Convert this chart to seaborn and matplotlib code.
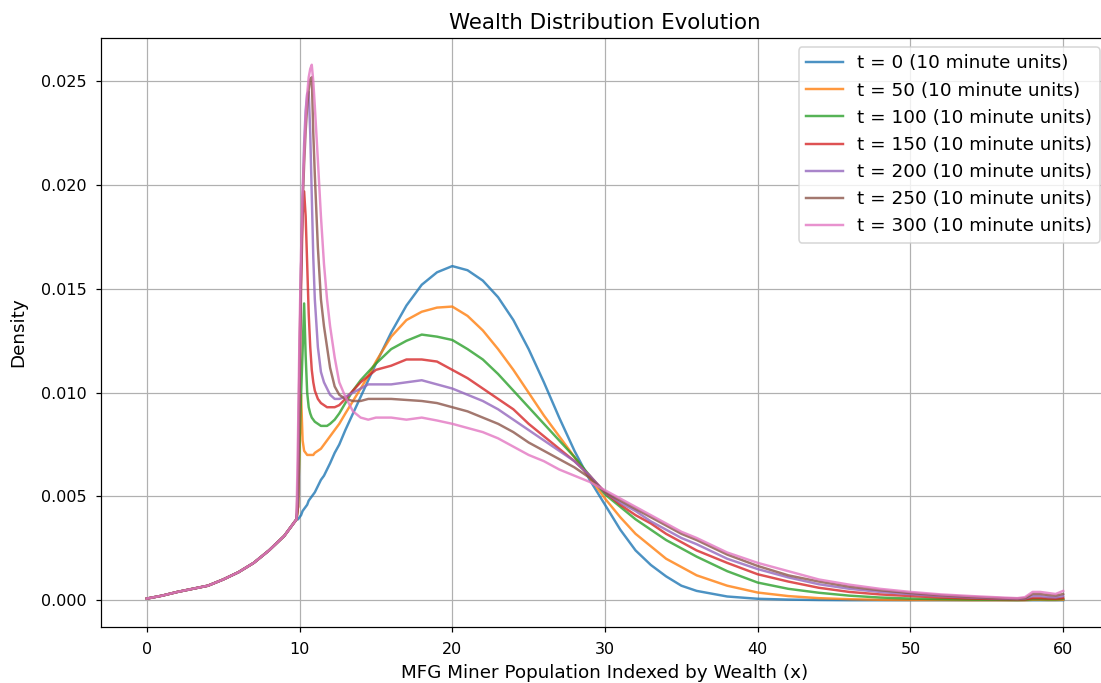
import numpy as np
import pandas as pd
import seaborn as sns
import matplotlib
matplotlib.use('Agg')
import matplotlib.pyplot as plt

# shared left tail (all curves start the same below x ~ 9.8)
x_tail = [0, 1, 2, 3, 4, 5, 6, 7, 8, 9, 9.5]
y_tail = [0.00008, 0.00022, 0.0004, 0.00055, 0.0007, 0.001, 0.00135, 0.0018, 0.0024, 0.0031, 0.0036]

# grid after the tail
x_spike = [9.8, 9.9, 10.0, 10.1, 10.2, 10.3, 10.4, 10.5, 10.6, 10.7, 10.8, 10.9, 11.0,
           11.2, 11.4, 11.6, 11.8, 12.0, 12.3, 12.6, 13.0, 13.5, 14.0, 14.5, 15.0]
x_mid = [16, 17, 18, 19, 20, 21, 22, 23, 24, 25, 26, 27, 28, 29, 30]
x_right = [31, 32, 33, 34, 35, 36, 38, 40, 42, 44, 46, 48, 50, 52, 54, 56,
           57, 57.5, 58, 58.5, 59, 59.5, 60]

times = [0, 50, 100, 150, 200, 250, 300]

t0 = ([0.0039, 0.0039, 0.0040, 0.0041, 0.0043, 0.0044, 0.0045, 0.0046, 0.0048, 0.0049, 0.0050, 0.0051, 0.0052,
       0.0055, 0.0058, 0.0060, 0.0063, 0.0066, 0.0071, 0.0075, 0.0082, 0.0090, 0.0098, 0.0106, 0.0114]
      + [0.0129, 0.0142, 0.0152, 0.0158, 0.0161, 0.0159, 0.0154, 0.0146, 0.0135, 0.0121, 0.0105, 0.0088, 0.0072, 0.0058, 0.0046]
      + [0.0034, 0.0024, 0.0017, 0.00115, 0.0007, 0.00045, 0.00018, 0.00007, 0.00003, 0.00001, 0.0, 0.0, 0.0, 0.0, 0.0, 0.0,
         0.0, 0.0, 0.0, 0.0, 0.0, 0.0, 0.0])

t50 = ([0.0039, 0.0045, 0.0075, 0.0099, 0.0077, 0.0072, 0.0071, 0.0070, 0.0070, 0.0070, 0.0070, 0.0070, 0.0071,
        0.0072, 0.0073, 0.0075, 0.0077, 0.0079, 0.0082, 0.0085, 0.0090, 0.0096, 0.0102, 0.0108, 0.0115]
       + [0.0127, 0.0135, 0.0139, 0.0141, 0.01415, 0.0137, 0.0130, 0.0121, 0.0111, 0.0100, 0.0089, 0.0079, 0.0069, 0.0059, 0.0049]
       + [0.0040, 0.0032, 0.0026, 0.0020, 0.0016, 0.0012, 0.0007, 0.00037, 0.0002, 0.0001, 0.00005, 0.00002, 0.00001, 0.00001,
          0.0, 0.0, 0.0, 0.0, 0.00002, 0.00002, 0.00001, 0.00001, 0.00002])

t100 = ([0.0039, 0.0045, 0.0075, 0.0099, 0.0120, 0.0143, 0.0118, 0.0100, 0.0093, 0.0090, 0.0088, 0.0087, 0.0086,
         0.0085, 0.0084, 0.0084, 0.0084, 0.0085, 0.0087, 0.0090, 0.0095, 0.0101, 0.0106, 0.0110, 0.0114]
        + [0.0121, 0.0125, 0.0128, 0.0127, 0.01254, 0.0121, 0.0116, 0.0109, 0.0101, 0.0093, 0.0085, 0.0077, 0.0069, 0.0060, 0.0051]
        + [0.0045, 0.0039, 0.0034, 0.0029, 0.0025, 0.0021, 0.0014, 0.00085, 0.00055, 0.00036, 0.00022, 0.00013, 0.00008,
           0.00005, 0.00003, 0.00002, 0.00001, 0.00002, 0.00005, 0.00005, 0.00004, 0.00004, 0.00006])

t150 = ([0.0039, 0.0045, 0.0100, 0.0150, 0.0185, 0.0197, 0.0185, 0.0162, 0.0138, 0.0122, 0.0111, 0.0105, 0.0101,
         0.0097, 0.0095, 0.0094, 0.0093, 0.0093, 0.0093, 0.0094, 0.0097, 0.0101, 0.0105, 0.0108, 0.0111]
        + [0.0113, 0.0116, 0.0116, 0.0115, 0.0111, 0.0107, 0.0102, 0.0097, 0.0092, 0.0085, 0.0079, 0.0073, 0.0067, 0.0060, 0.0052]
        + [0.0046, 0.0041, 0.0037, 0.0032, 0.0028, 0.0024, 0.0018, 0.00125, 0.0009, 0.0006, 0.0004, 0.00028, 0.0002,
           0.00013, 0.00008, 0.00005, 0.00004, 0.00004, 0.0001, 0.0001, 0.00008, 0.00007, 0.0001])

t200 = ([0.0039, 0.0050, 0.0110, 0.0160, 0.0195, 0.0220, 0.0236, 0.0244, 0.0245, 0.0225, 0.0195, 0.0165, 0.0145,
         0.0122, 0.0110, 0.0105, 0.0102, 0.0099, 0.0097, 0.0097, 0.0098, 0.0100, 0.0102, 0.0104, 0.0104]
        + [0.0104, 0.0105, 0.0106, 0.0104, 0.0102, 0.0099, 0.0096, 0.0092, 0.0087, 0.0082, 0.0077, 0.0072, 0.0067, 0.0060, 0.0052]
        + [0.0047, 0.0043, 0.0038, 0.0034, 0.0030, 0.0027, 0.0020, 0.0015, 0.0011, 0.00077, 0.00055, 0.0004, 0.00029,
           0.0002, 0.00013, 0.00008, 0.00006, 0.00008, 0.0002, 0.0002, 0.00015, 0.00013, 0.0002])

t250 = ([0.0039, 0.0060, 0.0120, 0.0160, 0.0190, 0.0210, 0.0226, 0.0238, 0.0246, 0.0251, 0.0252, 0.0225, 0.0205,
         0.0170, 0.0145, 0.0132, 0.0122, 0.0112, 0.0103, 0.0099, 0.0097, 0.0096, 0.0096, 0.0097, 0.0097]
        + [0.0097, 0.00965, 0.0096, 0.0095, 0.0093, 0.0091, 0.0088, 0.0085, 0.0081, 0.0076, 0.0072, 0.0068, 0.0064, 0.0059, 0.0052]
        + [0.0048, 0.0044, 0.0040, 0.0036, 0.0032, 0.0029, 0.0022, 0.00165, 0.0012, 0.0009, 0.00065, 0.00048, 0.00034,
           0.00024, 0.00016, 0.0001, 0.00008, 0.0001, 0.0003, 0.0003, 0.00025, 0.00022, 0.0003])

t300 = ([0.0039, 0.0080, 0.0130, 0.0168, 0.0195, 0.0215, 0.0232, 0.0244, 0.0252, 0.0256, 0.0258, 0.0250, 0.0238,
         0.0212, 0.0185, 0.0162, 0.0145, 0.0132, 0.0117, 0.0105, 0.0098, 0.0091, 0.0088, 0.0087, 0.0088]
        + [0.0088, 0.0087, 0.0088, 0.00866, 0.0085, 0.0083, 0.0081, 0.0078, 0.0074, 0.0070, 0.0067, 0.0063, 0.0060, 0.0057, 0.0053]
        + [0.0049, 0.0045, 0.0041, 0.0037, 0.0033, 0.0030, 0.0023, 0.0018, 0.0014, 0.0010, 0.00075, 0.00055, 0.0004,
           0.00028, 0.0002, 0.00013, 0.0001, 0.00015, 0.0004, 0.0004, 0.00035, 0.0003, 0.00045])

series = [t0, t50, t100, t150, t200, t250, t300]

x_all = x_tail + x_spike + x_mid + x_right
rows = []
for t, vals in zip(times, series):
    label = f't = {t} (10 minute units)'
    for x, y in zip(x_all, y_tail + vals):
        rows.append((label, x, y))
df = pd.DataFrame(rows, columns=['time', 'x', 'density'])

fig = plt.figure(figsize=(1101 / 110, 683 / 110), dpi=110)
# the axes run a little past the right edge of the picture, as in the original crop
ax = fig.add_axes([101 / 1101, 56 / 683, 1008 / 1101, 589 / 683])

sns.lineplot(data=df, x='x', y='density', hue='time', palette='tab10',
             alpha=0.8, linewidth=1.6, ax=ax, sort=True, estimator=None)

ax.set_title('Wealth Distribution Evolution', fontsize=14)
ax.set_xlabel('MFG Miner Population Indexed by Wealth (x)', fontsize=12, labelpad=5)
ax.set_ylabel('Density', fontsize=12, labelpad=9)
ax.tick_params(labelsize=10.5, pad=6)
ax.spines['right'].set_visible(False)
ax.grid(True)
handles, labels = ax.get_legend_handles_labels()
ax.legend(handles, labels, loc='upper right', fontsize=12)

fig.savefig('out.png', dpi=110)
